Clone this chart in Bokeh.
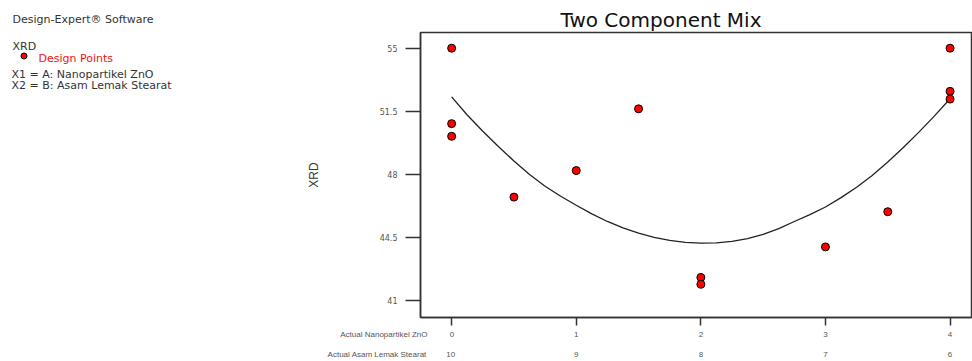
from bokeh.plotting import figure
from bokeh.models import Range1d, LinearAxis, FixedTicker
from bokeh.layouts import row
from bokeh.core.properties import value
from bokeh.embed import file_html
from bokeh.resources import INLINE

# ---- data ----
x_points = [0, 0, 0, 0.5, 1, 1.5, 2, 2, 3, 3.5, 4, 4, 4]
xrd_points = [55.0, 50.82, 50.12, 46.75, 48.22, 51.64, 42.3, 41.92, 43.99, 45.94, 55.0, 52.61, 52.18]

curve_x = [0, 0.125, 0.25, 0.375, 0.5, 0.625, 0.75, 0.875, 1.0, 1.125, 1.25, 1.375,
           1.5, 1.625, 1.75, 1.875, 2.0, 2.125, 2.25, 2.375, 2.5, 2.625, 2.75, 2.875,
           3.0, 3.125, 3.25, 3.375, 3.5, 3.625, 3.75, 3.875, 4.0]
curve_y = [52.3, 51.3, 50.4, 49.55, 48.75, 48.0, 47.35, 46.8, 46.3, 45.82, 45.4, 45.05,
           44.75, 44.52, 44.35, 44.24, 44.2, 44.22, 44.3, 44.45, 44.68, 45.0, 45.4, 45.78,
           46.2, 46.72, 47.3, 47.95, 48.7, 49.5, 50.35, 51.25, 52.2]

x_ticks = [0, 1, 2, 3, 4]
x_labels_a = ["0", "1", "2", "3", "4"]          # Actual Nanopartikel ZnO
x_labels_b = ["10", "9", "8", "7", "6"]         # Actual Asam Lemak Stearat
y_ticks = [41, 44.5, 48, 51.5, 55]
y_labels = ["41", "44.5", "48", "51.5", "55"]

title_text = "Two Component Mix"
y_title = "XRD"
x_title_a = "Actual Nanopartikel ZnO"
x_title_b = "Actual Asam Lemak Stearat"
info_lines = ["Design-Expert® Software", "XRD", "Design Points",
              "X1 = A: Nanopartikel ZnO", "X2 = B: Asam Lemak Stearat"]
info_colors = ["#333333", "#333333", "#ee1111", "#333333", "#333333"]

FONT = "Liberation Sans"
INFO_FONT = "DejaVu Sans"
AXIS_C = "#333333"
LBL_C = "#555555"
NB = "\u00a0"

# ---- left info panel (x 0..200) ----
left = figure(width=200, height=361, output_backend="svg", toolbar_location=None,
              title_location=None,
              x_range=Range1d(0, 200), y_range=Range1d(361, 0),
              min_border=0, x_axis_location=None, y_axis_location=None)
if "frame_align" in left.properties():
    left.frame_align = False
left.outline_line_color = None
left.grid.visible = False
info_x = [12, 12, 38, 11, 11]
info_y = [19, 46, 57.5, 74, 85]
left.text(x=info_x, y=info_y, text=info_lines, text_color=info_colors,
          text_font=value(INFO_FONT), text_font_size=value("11px"),
          text_baseline="alphabetic", text_align="left")
left.scatter([23.5], [55.5], marker="circle", size=6, fill_color="red",
             line_color="black", line_width=1)

# ---- main plot (x 200..972) ----
p = figure(width=772, height=361, output_backend="svg", toolbar_location=None,
           title=title_text,
           x_range=Range1d(-0.25, 4.18), y_range=Range1d(40.08, 55.87),
           min_border_left=220, min_border_right=0, min_border_top=32,
           min_border_bottom=38, x_axis_location=None, y_axis_location=None)
if "frame_align" in p.properties():
    p.frame_align = False
p.title.text_font = "DejaVu Sans"
p.title.text_font_size = "20px"
p.title.text_font_style = "normal"
p.title.text_color = "#111111"
p.title.align = "left"
p.title.offset = 140
p.title.standoff = 1
p.outline_line_color = AXIS_C
p.outline_line_width = 1.5
p.grid.visible = False

ya = LinearAxis(ticker=FixedTicker(ticks=y_ticks),
                major_label_overrides={t: l for t, l in zip(y_ticks, y_labels)},
                axis_label=y_title)
ya.axis_line_color = AXIS_C
ya.axis_line_width = 1.5
ya.major_tick_line_color = AXIS_C
ya.major_tick_line_width = 1.5
ya.major_tick_out = 15
ya.major_tick_in = 0
ya.minor_tick_line_color = None
ya.major_label_text_font = "DejaVu Sans"
ya.major_label_text_font_size = "8px"
ya.major_label_text_color = LBL_C
ya.major_label_standoff = 8
ya.axis_label_text_font = FONT
ya.axis_label_text_font_size = "12px"
ya.axis_label_text_font_style = "normal"
ya.axis_label_text_color = "#333333"
ya.axis_label_standoff = 56
p.add_layout(ya, "left")

# first row: the label of tick 0 carries the row title, padded symmetrically
pad_a = {0: x_title_a + NB * 10 + x_labels_a[0] + NB * 49}
xa = LinearAxis(ticker=FixedTicker(ticks=x_ticks),
                major_label_overrides={t: pad_a.get(i, l) for i, (t, l) in enumerate(zip(x_ticks, x_labels_a))})
xa.axis_line_color = AXIS_C
xa.axis_line_width = 1.5
xa.major_tick_line_color = AXIS_C
xa.major_tick_line_width = 1.5
xa.major_tick_out = 8
xa.major_tick_in = 0
xa.minor_tick_line_color = None
xa.major_label_text_font = FONT
xa.major_label_text_font_size = "8px"
xa.major_label_text_color = LBL_C
xa.major_label_standoff = 4
p.add_layout(xa, "below")

pad_b = {0: x_title_b + NB * 9 + x_labels_b[0] + NB * 54}
xb = LinearAxis(ticker=FixedTicker(ticks=x_ticks),
                major_label_overrides={t: pad_b.get(i, l) for i, (t, l) in enumerate(zip(x_ticks, x_labels_b))})
xb.axis_line_color = None
xb.major_tick_line_color = None
xb.minor_tick_line_color = None
xb.major_label_text_font = FONT
xb.major_label_text_font_size = "8px"
xb.major_label_text_color = LBL_C
xb.major_label_standoff = 2
p.add_layout(xb, "below")

p.line(curve_x, curve_y, line_color="#222222", line_width=1.3)
p.scatter(x_points, xrd_points, marker="circle", size=8,
          fill_color="red", line_color="black", line_width=1)

layout = row(left, p, spacing=0)
open("out.html", "w").write(file_html(layout, INLINE))
